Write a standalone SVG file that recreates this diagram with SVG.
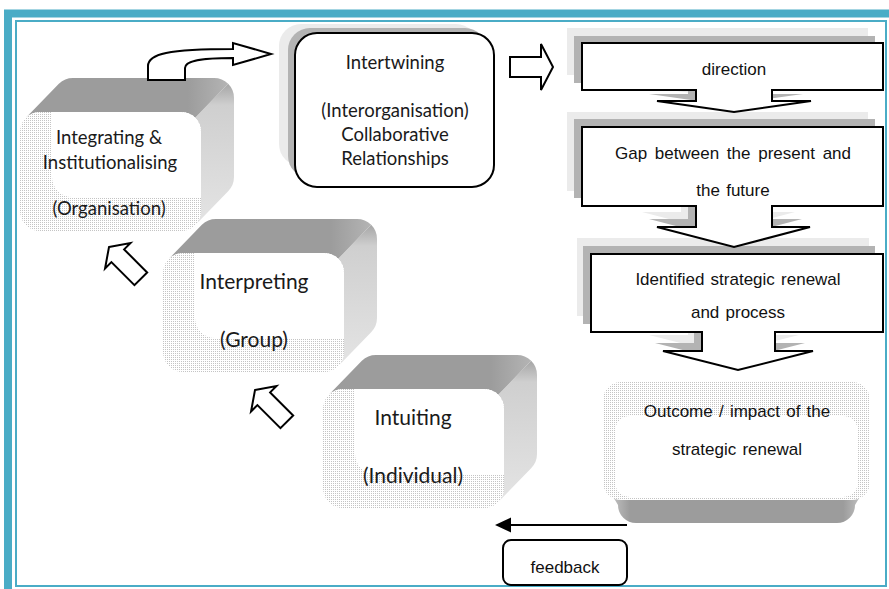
<svg xmlns="http://www.w3.org/2000/svg" xmlns:xlink="http://www.w3.org/1999/xlink" width="889" height="589" viewBox="0 0 889 589">
<style>
.cal{font-family:Lato,"Open Sans","Liberation Sans",sans-serif;fill:#1a1a1a;text-anchor:middle}
.ari{font-family:"Liberation Sans",Arial,sans-serif;font-size:17px;fill:#111;text-anchor:middle;word-spacing:1.5px}
.blk{fill:#fff;stroke:#000;stroke-width:2;stroke-linejoin:miter}
.sh1{fill:#ebebeb}
.sh2{fill:#b3b3b3}
.frame{fill:none;stroke:#4aacc6}
</style>
<defs>
<pattern id="dots" width="2" height="2" patternUnits="userSpaceOnUse">
<rect width="2" height="2" fill="#ffffff"/>
<rect width="1" height="1" fill="#c4c4c4"/>
</pattern>
<linearGradient id="rightFace" x1="0" y1="0" x2="0" y2="1">
<stop offset="0" stop-color="#a6a6a6"/>
<stop offset="0.15" stop-color="#cfcfcf"/>
<stop offset="1" stop-color="#e4e4e4"/>
</linearGradient>
<linearGradient id="topFace" x1="0" y1="0" x2="1" y2="0">
<stop offset="0" stop-color="#9c9c9c"/>
<stop offset="0.8" stop-color="#9c9c9c"/>
<stop offset="1" stop-color="#b4b4b4"/>
</linearGradient>
<linearGradient id="botFace" x1="0" y1="0" x2="1" y2="0">
<stop offset="0" stop-color="#d4d4d4"/>
<stop offset="0.1" stop-color="#9c9c9c"/>
<stop offset="0.9" stop-color="#9c9c9c"/>
<stop offset="1" stop-color="#d4d4d4"/>
</linearGradient>
<g id="box3d">
<path fill="url(#rightFace)" d="M175.14,39.86 L208.14,5.86 A20,20 0 0 1 214,20 V99 A20,20 0 0 1 208.14,113.14 L175.14,147.14 A20,20 0 0 0 181,133 V54 A20,20 0 0 0 175.14,39.86 Z"/>
<path fill="url(#topFace)" d="M5.86,39.86 L38.86,5.86 A20,20 0 0 1 53,0 H194 A20,20 0 0 1 208.14,5.86 L175.14,39.86 A20,20 0 0 0 161,34 H20 A20,20 0 0 0 5.86,39.86 Z"/>
<rect x="0" y="34" width="181" height="119" rx="20" fill="url(#dots)"/>
<path fill="#fff" d="M32,34 H161 A20,20 0 0 1 181,54 V119 H52 A20,20 0 0 1 32,99 Z"/>
</g>
</defs>

<!-- frame -->
<rect x="0" y="0" width="889" height="589" fill="#fff"/>
<path d="M8,589 V13.5 H889" fill="none" stroke="#4aacc6" stroke-width="8"/>
<rect class="frame" x="16" y="21" width="870" height="565" stroke-width="2"/>

<g id="node-integrating">
<use xlink:href="#box3d" transform="translate(20,78)"/>
<text class="cal" font-size="18.5" x="109" y="144">Integrating &amp;</text>
<text class="cal" font-size="18.5" x="110" y="169">Institutionalising</text>
<text class="cal" font-size="18.5" x="109" y="215">(Organisation)</text>
</g>

<g id="node-interpreting">
<use xlink:href="#box3d" transform="translate(163,219)"/>
<text class="cal" font-size="21" x="254" y="289">Interpreting</text>
<text class="cal" font-size="21" x="254" y="347">(Group)</text>
</g>

<g id="node-intuiting">
<use xlink:href="#box3d" transform="translate(323,355)"/>
<text class="cal" font-size="21" x="413" y="425">Intuiting</text>
<text class="cal" font-size="21" x="413" y="483">(Individual)</text>
</g>

<g id="node-intertwining">
<rect class="sh1" x="279" y="24" width="199" height="142" rx="22"/>
<rect class="sh2" x="288" y="28" width="199" height="150" rx="22"/>
<rect class="blk" x="295" y="33" width="199" height="154" rx="22"/>
<text class="cal" font-size="18.5" x="395" y="69">Intertwining</text>
<text class="cal" font-size="18.5" x="395" y="117">(Interorganisation)</text>
<text class="cal" font-size="18.5" x="395" y="141">Collaborative</text>
<text class="cal" font-size="18.5" x="395" y="165">Relationships</text>
</g>

<g id="node-identified">
<path class="sh1" transform="translate(-14,-16)" d="M591,254 H883 V332 H775 V351 H813 L738,370 L663,351 H702 V332 H591 Z"/>
<path class="sh2" transform="translate(-8,-8)" d="M591,254 H883 V332 H775 V351 H813 L738,370 L663,351 H702 V332 H591 Z"/>
<path class="blk" d="M591,254 H883 V332 H775 V351 H813 L738,370 L663,351 H702 V332 H591 Z"/>
<text class="ari" x="738" y="285">Identified strategic renewal</text>
<text class="ari" x="738" y="318">and process</text>
</g>

<g id="node-gap">
<path class="sh1" transform="translate(-15,-15)" d="M582,127 H883 V206 H772 V227 H810 L734,247 L657,227 H696 V206 H582 Z"/>
<path class="sh2" transform="translate(-8,-8)" d="M582,127 H883 V206 H772 V227 H810 L734,247 L657,227 H696 V206 H582 Z"/>
<path class="blk" d="M582,127 H883 V206 H772 V227 H810 L734,247 L657,227 H696 V206 H582 Z"/>
<text class="ari" x="733" y="159" style="word-spacing:3px">Gap between the present and</text>
<text class="ari" x="733" y="196">the future</text>
</g>

<g id="node-direction">
<path class="sh1" transform="translate(-15,-15)" d="M582,43 H883 V90 H772 V101 H811 L734,112 L657,101 H696 V90 H582 Z"/>
<path class="sh2" transform="translate(-8,-7)" d="M582,43 H883 V90 H772 V101 H811 L734,112 L657,101 H696 V90 H582 Z"/>
<path class="blk" d="M582,43 H883 V90 H772 V101 H811 L734,112 L657,101 H696 V90 H582 Z"/>
<text class="ari" x="734" y="75">direction</text>
</g>

<g id="node-outcome">
<path fill="url(#botFace)" d="M603,480 L618,505 A18,18 0 0 0 636,523 H837 A18,18 0 0 0 855,505 L870,480 Z"/>
<rect x="603" y="382" width="267" height="118" rx="18" fill="url(#dots)"/>
<rect x="615" y="416" width="243" height="81" rx="15" fill="#fff"/>
<text class="ari" x="737" y="417">Outcome / impact of the</text>
<text class="ari" x="737" y="455">strategic renewal</text>
</g>

<g id="node-feedback">
<rect class="blk" x="503" y="540" width="124" height="45" rx="8"/>
<text class="ari" x="565" y="573">feedback</text>
</g>

<g id="connectors">
<path class="blk" d="M148,80 V66 C148,54 168,49 233,49 V43 L271,54 L233,65 V58 C196,58 185,62 185,68 V80 Z"/>
<path class="blk" d="M510,57 H541 V44 L553,67 L541,90 V77 H510 Z"/>
<path class="blk" transform="translate(109,247) rotate(-45)" d="M0,0 L18,12.4 H9 V45 H-9 V12.4 H-18 Z"/>
<path class="blk" transform="translate(255,390) rotate(-45)" d="M0,0 L18,12.4 H9 V45 H-9 V12.4 H-18 Z"/>
<line x1="627" y1="525" x2="508" y2="525" stroke="#000" stroke-width="2"/>
<polygon points="495,525 511,517.5 511,532.5" fill="#000"/>
</g>
</svg>
